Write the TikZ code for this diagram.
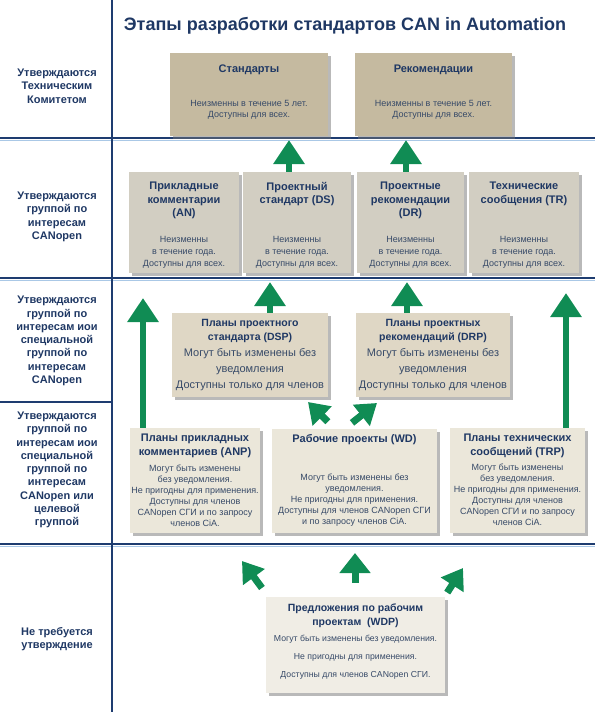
\documentclass[tikz,border=0pt]{standalone}
\usepackage{fontspec}
\setmainfont{Liberation Sans}
\usetikzlibrary{positioning}
\usetikzlibrary{arrows.meta}
\usetikzlibrary{shadows}

\definecolor{navy}{RGB}{31,56,100}
\definecolor{bodyblue}{RGB}{55,74,104}
\definecolor{rulecol}{RGB}{30,60,112}
\definecolor{glowcol}{RGB}{170,200,230}
\definecolor{arrowgreen}{RGB}{16,140,84}
\definecolor{tanA}{RGB}{197,186,160}
\definecolor{greyB}{RGB}{210,206,194}
\definecolor{tanC}{RGB}{223,215,197}
\definecolor{creamD}{RGB}{235,231,218}
\definecolor{creamE}{RGB}{240,237,229}

\begin{document}
\begin{tikzpicture}[x=1pt, y=-1pt,
  rowlabel/.style={font=\fontsize{11}{13.3}\selectfont\bfseries, text=navy, align=center, inner sep=0pt},
  box/.style={inner sep=0pt, drop shadow={shadow xshift=2.5pt, shadow yshift=-2.5pt, fill=black!55}},
  head/.style 2 args={font=\fontsize{#1}{#2}\selectfont\bfseries, text=navy, align=center, inner sep=0pt},
  body/.style 2 args={font=\fontsize{#1}{#2}\selectfont, text=bodyblue, align=center, inner sep=0pt},
  uparrow/.style={draw=arrowgreen, line width=6.5pt, -{Triangle[width=30pt, length=24pt]}},
  diagarrow/.style={draw=arrowgreen, line width=7pt, -{Triangle[width=26pt, length=20pt]}}]

  \useasboundingbox (0,0) rectangle (595,712);

  % frame of the table
  \foreach \yy in {138,278,544} {
    \draw[glowcol, line width=1pt] (0,\yy+2.5) -- (595,\yy+2.5);
    \draw[rulecol, line width=2.5pt] (0,\yy) -- (595,\yy);
  }
  \draw[rulecol, line width=2.5pt] (0,402) -- (112,402);
  \draw[rulecol, line width=2.5pt] (112,0) -- (112,712);

  \node[font=\fontsize{18}{22}\selectfont\bfseries, text=navy] (title) at (345,26) {Этапы разработки стандартов CAN in Automation};

  % who approves
  \node[rowlabel] (lab1) at (57,86) {Утверждаются\\Техническим\\Комитетом};
  \node[rowlabel] (lab2) at (57,217) {Утверждаются\\группой по\\интересам\\CANopen};
  \node[rowlabel] (lab3) at (57,341) {Утверждаются\\группой по\\интересам иои\\специальной\\группой по\\интересам\\CANopen};
  \node[rowlabel] (lab4) at (57,470) {Утверждаются\\группой по\\интересам иои\\специальной\\группой по\\интересам\\CANopen или\\целевой\\группой};
  \node[rowlabel] (lab5) at (57,639) {Не требуется\\утверждение};

  % row 1
  \node[box, fill=tanA, minimum width=158pt, minimum height=83pt] (std) at (249,94.5) {};
  \node[head={11}{13.5}, below=12pt of std.north] (stdH) {Стандарты};
  \node[body={9}{11}, above=17pt of std.south] (stdB) {Неизменны в течение 5 лет.\\Доступны для всех.};
  \node[box, fill=tanA, minimum width=157pt, minimum height=83pt] (rec) at (433.5,94.5) {};
  \node[head={11}{13.5}, below=12pt of rec.north] (recH) {Рекомендации};
  \node[body={9}{11}, above=17pt of rec.south] (recB) {Неизменны в течение 5 лет.\\Доступны для всех.};

  % row 2
  \node[box, fill=greyB, minimum width=110pt, minimum height=101pt] (AN) at (184,222.5) {};
  \node[head={11}{13.5}, below=10pt of AN.north] (ANH) {Прикладные\\комментарии\\(AN)};
  \node[body={9}{12}, above=5pt of AN.south] (ANB) {Неизменны\\в течение года.\\Доступны для всех.};
  \node[box, fill=greyB, minimum width=108pt, minimum height=101pt] (DS) at (297,222.5) {};
  \node[head={11}{13.5}, below=10pt of DS.north] (DSH) {Проектный\\стандарт (DS)};
  \node[body={9}{12}, above=5pt of DS.south] (DSB) {Неизменны\\в течение года.\\Доступны для всех.};
  \node[box, fill=greyB, minimum width=107pt, minimum height=101pt] (DR) at (410.5,222.5) {};
  \node[head={11}{13.5}, below=10pt of DR.north] (DRH) {Проектные\\рекомендации\\(DR)};
  \node[body={9}{12}, above=5pt of DR.south] (DRB) {Неизменны\\в течение года.\\Доступны для всех.};
  \node[box, fill=greyB, minimum width=110pt, minimum height=101pt] (TR) at (524,222.5) {};
  \node[head={11}{13.5}, below=10pt of TR.north] (TRH) {Технические\\сообщения (TR)};
  \node[body={9}{12}, above=5pt of TR.south] (TRB) {Неизменны\\в течение года.\\Доступны для всех.};

  % row 3
  \node[box, fill=tanC, minimum width=156pt, minimum height=84pt] (DSP) at (250,355) {};
  \node[head={10.5}{14}, below=6pt of DSP.north] (DSPH) {Планы проектного\\стандарта (DSP)};
  \node[body={11}{16}, above=6pt of DSP.south] (DSPB) {Могут быть изменены без\\уведомления\\Доступны только для членов};
  \node[box, fill=tanC, minimum width=154pt, minimum height=84pt] (DRP) at (433,355) {};
  \node[head={10.5}{14}, below=6pt of DRP.north] (DRPH) {Планы проектных\\рекомендаций (DRP)};
  \node[body={11}{16}, above=6pt of DRP.south] (DRPB) {Могут быть изменены без\\уведомления\\Доступны только для членов};

  % row 4
  \node[box, fill=creamD, minimum width=130pt, minimum height=105pt] (ANP) at (195,480.5) {};
  \node[head={11}{14}, below=6pt of ANP.north] (ANPH) {Планы прикладных\\комментариев (ANP)};
  \node[body={9}{11}, above=6pt of ANP.south] (ANPB) {Могут быть изменены\\без уведомления.\\Не пригодны для применения.\\Доступны для членов\\CANopen СГИ и по запросу\\членов CiA.};
  \node[box, fill=creamD, minimum width=165pt, minimum height=104pt] (WD) at (354.5,481) {};
  \node[head={11}{14}, below=5pt of WD.north] (WDH) {Рабочие проекты (WD)};
  \node[body={9}{11}, above=7pt of WD.south] (WDB) {Могут быть изменены без\\уведомления.\\Не пригодны для применения.\\Доступны для членов CANopen СГИ\\и по запросу членов CiA.};
  \node[box, fill=creamD, minimum width=135pt, minimum height=105pt] (TRP) at (517.5,480.5) {};
  \node[head={11}{14}, below=6pt of TRP.north] (TRPH) {Планы технических\\сообщений (TRP)};
  \node[body={9}{11}, above=7pt of TRP.south] (TRPB) {Могут быть изменены\\без уведомления.\\Не пригодны для применения.\\Доступны для членов\\CANopen СГИ и по запросу\\членов CiA.};

  % row 5
  \node[box, fill=creamE, minimum width=179pt, minimum height=96pt] (WDP) at (355.5,645) {};
  \node[head={10.5}{14}, below=7pt of WDP.north] (WDPH) {Предложения по рабочим\\проектам\ \ (WDP)};
  \node[body={8.7}{18}, above=14pt of WDP.south] (WDPB) {Могут быть изменены без уведомления.\\Не пригодны для применения.\\Доступны для членов CANopen СГИ.};

  % promotion arrows
  \coordinate (tipDS) at (289,140);
  \coordinate (tipDR) at (406,140);
  \coordinate (tipDSP) at (270,282);
  \coordinate (tipDRP) at (407,282);
  \coordinate (tipANP) at (143,298);
  \coordinate (tipTRP) at (566,293);
  \draw[uparrow] (DS.north -| tipDS) -- (tipDS);
  \draw[uparrow] (DR.north -| tipDR) -- (tipDR);
  \draw[uparrow] (DSP.north -| tipDSP) -- (tipDSP);
  \draw[uparrow] (DRP.north -| tipDRP) -- (tipDRP);
  \draw[uparrow] (ANP.north -| tipANP) -- (tipANP);
  \draw[uparrow] (TRP.north -| tipTRP) -- (tipTRP);

  \coordinate (tipWDl) at (308,402);
  \coordinate (tipWDr) at (377,403);
  \draw[diagarrow, shorten <=10pt] ([xshift=-19.5pt]WD.north) -- (tipWDl);
  \draw[diagarrow, shorten <=9.6pt] ([xshift=-10pt]WD.north) -- (tipWDr);

  \coordinate (tipL) at (242,561);
  \coordinate (tipM) at (355,553);
  \coordinate (tipR) at (463,568);
  \draw[diagarrow, shorten <=11pt] ([xshift=-87pt]WDP.north) -- (tipL);
  \draw[diagarrow, -{Triangle[width=30pt, length=20pt]}, shorten <=14pt] (WDP.north -| tipM) -- (tipM);
  \draw[diagarrow, shorten <=5pt] ([xshift=89pt]WDP.north) -- (tipR);
\end{tikzpicture}
\end{document}
